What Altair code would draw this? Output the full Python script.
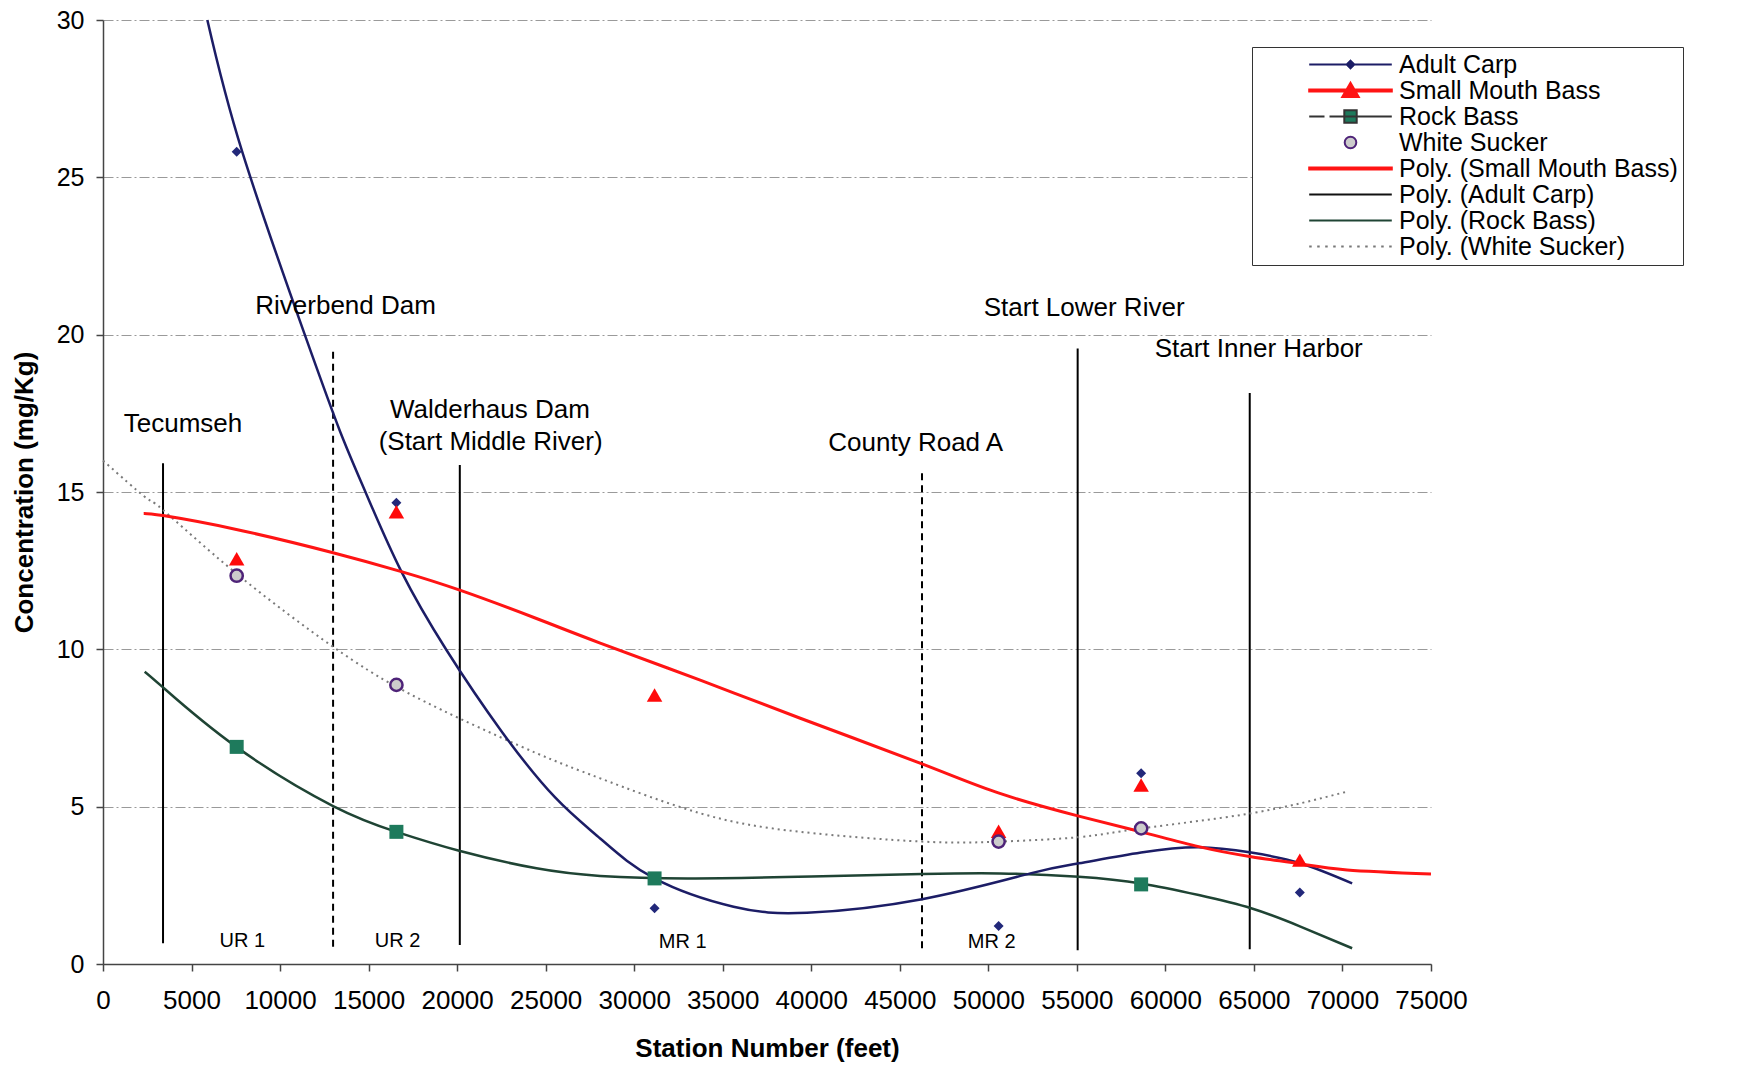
import altair as alt
import pandas as pd

# ---------------- data ----------------
station_x = [7550, 16570, 31150, 50580, 58630, 67590]
carp_y = [25.81, 14.66, 1.77, 1.21, 6.06, 2.27]
smb_y = [12.88, 14.37, 8.55, 4.22, 5.69, 3.30]
rb_x = [7550, 16570, 31150, 58630]
rb_y = [6.90, 4.20, 2.72, 2.53]
ws_x = [7550, 16570, 50580, 58630]
ws_y = [12.34, 8.87, 3.89, 4.31]

# trend lines ("Poly." curves)
carp_tx = [5893, 7870, 11395, 13407, 14876, 16853, 19396, 22503, 25520, 28079, 31147,
           35610, 39757, 46254, 52373, 55104, 58627, 61881, 64842, 67627, 70547]
carp_ty = [30.0, 25.80, 20.0, 16.90, 14.93, 12.47, 9.98, 7.40, 5.30, 3.99, 2.72,
           1.82, 1.63, 2.06, 2.88, 3.20, 3.54, 3.71, 3.54, 3.20, 2.56]
smb_tx = [2299, 3390, 7531, 12994, 16853, 20151, 24482, 28079, 33729, 39379, 46254,
          50650, 55104, 58627, 61881, 64842, 67627, 70264, 75000]
smb_ty = [14.32, 14.25, 13.81, 13.07, 12.47, 11.88, 10.98, 10.20, 9.02, 7.81, 6.36,
          5.42, 4.70, 4.20, 3.73, 3.41, 3.18, 2.99, 2.86]
rb_tx = [2354, 3390, 7531, 12994, 16571, 20113, 24482, 28079, 33000, 40000, 46254,
         50650, 55104, 58627, 61881, 64842, 67627, 70547]
rb_ty = [9.29, 8.79, 6.90, 5.02, 4.20, 3.60, 3.04, 2.80, 2.72, 2.78, 2.86,
         2.88, 2.77, 2.56, 2.19, 1.77, 1.19, 0.50]
ws_tx = [0, 2354, 3390, 7531, 12994, 16571, 20113, 24482, 28079, 33729, 39379,
         46254, 50650, 55104, 58627, 64842, 70264]
ws_ty = [16.0, 14.85, 14.43, 12.41, 10.08, 8.81, 7.81, 6.70, 5.90, 4.79, 4.20,
         3.89, 3.89, 4.03, 4.31, 4.79, 5.48]

# river section boundaries
bound_x = [3390, 12994, 20151, 46254, 55045, 64763]
bound_top = [15.91, 19.46, 15.86, 15.72, 19.56, 18.15]
bound_bottom = [0.66, 0.55, 0.60, 0.50, 0.44, 0.47]
bound_dashed = [False, True, False, True, False, False]

place_labels = ["Tecumseh", "Riverbend Dam", "Walderhaus Dam", "(Start Middle River)",
                "County Road A", "Start Lower River", "Start Inner Harbor"]
place_x = [4520, 13700, 21850, 21890, 45900, 55410, 65270]
place_y = [16.91, 20.67, 17.34, 16.33, 16.30, 20.60, 19.28]

reach_labels = ["UR 1", "UR 2", "MR 1", "MR 2"]
reach_x = [7870, 16640, 32740, 50190]
reach_y = [0.55, 0.55, 0.50, 0.50]

legend_names = ["Adult Carp", "Small Mouth Bass", "Rock Bass", "White Sucker",
                "Poly. (Small Mouth Bass)", "Poly. (Adult Carp)", "Poly. (Rock Bass)",
                "Poly. (White Sucker)"]

# ---------------- styling ----------------
FONT = "Liberation Sans"
NAVY = "#1c1d66"
RED = "#ff1414"
GREEN_PT = "#1e7a5c"
GREEN_LN = "#1f4434"
PURPLE = "#4e2378"
GRAYFILL = "#cccccc"

X_TITLE = "Station Number (feet)"
Y_TITLE = "Concentration (mg/Kg)"

xscale = alt.Scale(domain=[0, 75000], nice=False, zero=False)
yscale = alt.Scale(domain=[0, 30], nice=False)

xaxis = alt.Axis(values=list(range(0, 75001, 5000)), format="d", grid=False,
                 labelFont=FONT, labelFontSize=26, labelColor="black", labelPadding=16,
                 labelFlush=False, labelOverlap=False,
                 tickSize=7, tickColor="#444", tickWidth=1.5,
                 domainColor="#444", domainWidth=1.5,
                 titleFont=FONT, titleFontSize=26, titleFontWeight="bold",
                 titleColor="black", titlePadding=22)
yaxis = alt.Axis(values=list(range(0, 31, 5)), grid=True, gridColor="#9a9a9a",
                 gridDash=[10, 3, 2, 3], gridWidth=1,
                 labelFont=FONT, labelFontSize=25, labelColor="black", labelPadding=12,
                 labelFlush=False,
                 tickSize=7, tickColor="#444", tickWidth=1.5,
                 domainColor="#444", domainWidth=1.5,
                 titleFont=FONT, titleFontSize=26, titleFontWeight="bold",
                 titleColor="black", titlePadding=19)


def X():
    return alt.X("x:Q", scale=xscale, axis=xaxis, title=X_TITLE)


def Y():
    return alt.Y("y:Q", scale=yscale, axis=yaxis, title=Y_TITLE)


# boundaries
rules_df = pd.DataFrame({"x": bound_x, "y": bound_bottom, "y2": bound_top,
                         "dashed": bound_dashed})
solid_rules = alt.Chart(rules_df).transform_filter("!datum.dashed").mark_rule(
    color="black", strokeWidth=2).encode(x=X(), y=Y(), y2="y2:Q")
dashed_rules = alt.Chart(rules_df).transform_filter("datum.dashed").mark_rule(
    color="black", strokeWidth=2, strokeDash=[7, 5]).encode(x=X(), y=Y(), y2="y2:Q")


def trend(xs, ys, color, width, dash=None):
    df = pd.DataFrame({"x": xs, "y": ys})
    kw = dict(color=color, strokeWidth=width, interpolate="natural")
    if dash:
        kw["strokeDash"] = dash
    return alt.Chart(df).mark_line(**kw).encode(x=X(), y=Y())


ws_line = trend(ws_tx, ws_ty, "#7a7a7a", 2, [2, 4])
rb_line = trend(rb_tx, rb_ty, GREEN_LN, 2.5)
carp_line = trend(carp_tx, carp_ty, NAVY, 2.5)
smb_line = trend(smb_tx, smb_ty, RED, 3)

carp_pts = alt.Chart(pd.DataFrame({"x": station_x, "y": carp_y})).mark_point(
    shape="diamond", filled=True, size=100, color="#22287a", opacity=1).encode(x=X(), y=Y())
smb_pts = alt.Chart(pd.DataFrame({"x": station_x, "y": smb_y})).mark_point(
    shape="triangle-up", filled=True, size=240, color="#ff0a0a", opacity=1).encode(x=X(), y=Y())
rb_pts = alt.Chart(pd.DataFrame({"x": rb_x, "y": rb_y})).mark_point(
    shape="square", filled=True, size=196, color=GREEN_PT, opacity=1).encode(x=X(), y=Y())
ws_pts = alt.Chart(pd.DataFrame({"x": ws_x, "y": ws_y})).mark_point(
    shape="circle", size=150, fill=GRAYFILL, stroke=PURPLE, strokeWidth=2.5,
    opacity=1, fillOpacity=1).encode(x=X(), y=Y())

place_txt = alt.Chart(pd.DataFrame({"x": place_x, "y": place_y, "t": place_labels})).mark_text(
    align="center", baseline="alphabetic", font=FONT, fontSize=26, color="black").encode(
    x=X(), y=Y(), text="t:N")
reach_txt = alt.Chart(pd.DataFrame({"x": reach_x, "y": reach_y, "t": reach_labels})).mark_text(
    align="center", baseline="alphabetic", font=FONT, fontSize=20, color="black").encode(
    x=X(), y=Y(), text="t:N")

# ---------------- legend (driven by scales only, no visible marks) ----------------
# symbol unit = 10 px (symbolSize 400); the line part reaches +-4.13 units (about 83 px)
L = 4.13
LINE = "M-%.2f,0H%.2f" % (L, L)
THICK = "M-%.2f,-0.1H%.2fV0.1H-%.2fZ" % (L, L, L)
DOTS = "".join("M%.2f,0H%.2f" % (a / 100, a / 100 + 0.25) for a in range(-413, 413, 80))
legend_shapes = [
    LINE + "M0,-0.38L0.38,0L0,0.38L-0.38,0Z",
    THICK + "M0,-0.78L0.83,0.66L-0.83,0.66Z",
    "M-%.2f,0H-2.6M-2.1,0H%.2f" % (L, L) + "M-0.62,-0.62H0.62V0.62H-0.62Z",
    "M0.58,0A0.58,0.58 0 1,1 -0.58,0A0.58,0.58 0 1,1 0.58,0Z",
    THICK,
    LINE,
    LINE,
    DOTS,
]
legend_fill = [NAVY, RED, GREEN_PT, GRAYFILL, RED, "#111111", GREEN_LN, "#777777"]
legend_stroke = [NAVY, RED, "#333333", PURPLE, RED, "#111111", GREEN_LN, "#777777"]

leg = alt.Legend(orient="none", legendX=1149, legendY=27, direction="vertical",
                 symbolSize=400, symbolStrokeWidth=2, symbolOffset=81, labelOffset=36,
                 labelFont=FONT, labelFontSize=25, labelColor="black", labelLimit=700,
                 rowPadding=0, padding=5, fillColor="white", strokeColor="#333333")

legend_df = pd.DataFrame({"series": legend_names, "x": [None] * 8, "y": [None] * 8})
legend_layer = alt.Chart(legend_df).transform_filter("datum.x != null").mark_point(
    filled=True, opacity=1).encode(
    x=X(), y=Y(),
    fill=alt.Fill("series:N", title=None, legend=leg,
                  scale=alt.Scale(domain=legend_names, range=legend_fill)),
    stroke=alt.Stroke("series:N", title=None, legend=leg,
                      scale=alt.Scale(domain=legend_names, range=legend_stroke)),
    shape=alt.Shape("series:N", title=None, legend=leg,
                    scale=alt.Scale(domain=legend_names, range=legend_shapes)),
)

chart = alt.layer(
    solid_rules, dashed_rules, ws_line, rb_line, carp_line, smb_line,
    carp_pts, smb_pts, rb_pts, ws_pts, place_txt, reach_txt, legend_layer
).properties(
    width=1328, height=944,
    autosize=alt.AutoSizeParams(type="none"),
    padding={"left": 103, "top": 20, "right": 323, "bottom": 104},
    background="white",
).configure_view(strokeWidth=0)

chart.save("out.html", embed_options={"renderer": "svg", "actions": False})
